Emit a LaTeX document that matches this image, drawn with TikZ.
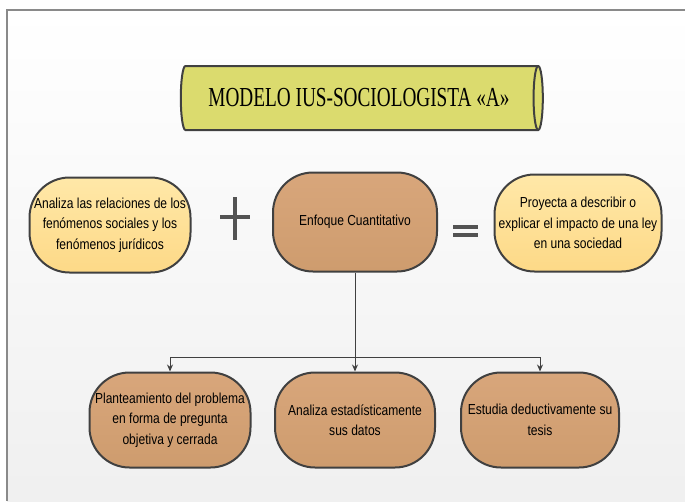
\documentclass[tikz,border=0pt]{standalone}
\usepackage{fontspec}
\setmainfont{Liberation Sans}[FakeStretch=0.83]
\newfontfamily\titlefont{Liberation Serif}[FakeStretch=0.7]
\usetikzlibrary{positioning,shapes.geometric,shapes.misc,arrows.meta}
\definecolor{edgegray}{HTML}{404040}
\definecolor{framegray}{HTML}{8A8A8A}
\definecolor{titlefill}{HTML}{DBDB6E}
\definecolor{paletop}{HTML}{FFE8A8}
\definecolor{palebot}{HTML}{FDD987}
\definecolor{tantop}{HTML}{D8A67B}
\definecolor{tanbot}{HTML}{CE9C6E}
\tikzset{
  stadium/.style={draw=edgegray, line width=2pt, rounded corners=40pt,
    align=center, inner sep=0pt, font=\fontsize{14.5}{20.5}\selectfont},
  idea/.style={stadium, top color=paletop, bottom color=palebot},
  method/.style={stadium, top color=tantop, bottom color=tanbot},
  link/.style={draw=edgegray, line width=1pt},
  sign/.style={draw=edgegray!90, line width=3.5pt}
}
\begin{document}
\begin{tikzpicture}[x=1pt, y=-1pt]
    \useasboundingbox (0, 0) rectangle (685, 501);
    \shade[top color=white, bottom color=black!6] (7, 10) rectangle (685, 501);
    \draw[framegray, line width=1.5pt] (685, 10) -- (7, 10) -- (7, 501);
    % title
    \node[cylinder, draw=edgegray, line width=2pt, fill=titlefill, aspect=0.5,
      minimum width=64pt, minimum height=362pt, inner sep=0pt]
      (titulo) at (359, 98) {\titlefont\fontsize{27.5}{30}\selectfont MODELO IUS-SOCIOLOGISTA «A»};
    % top row
    \node[idea, minimum width=161pt, minimum height=95pt] (analiza) at (110, 225)
      {Analiza las relaciones de los\\fenómenos sociales y los\\fenómenos jurídicos};
    \node[method, minimum width=164pt, minimum height=99pt] (enfoque) at (355, 222)
      {Enfoque Cuantitativo};
    \node[idea, minimum width=167pt, minimum height=97pt] (proyecta) at (578, 223)
      {Proyecta a describir o\\explicar el impacto de una ley\\en una sociedad};
    \draw[sign] (220, 217) -- (250, 217);
    \draw[sign] (235, 197) -- (235, 240);
    \draw[sign] (453, 227) -- (478, 227);
    \draw[sign] (453, 235) -- (478, 235);
    % bottom row
    \node[method, minimum width=161pt, minimum height=95pt] (plantea) at (170, 420)
      {Planteamiento del problema\\en forma de pregunta\\objetiva y cerrada};
    \node[method, minimum width=160pt, minimum height=95pt] (estadis) at (355, 420)
      {Analiza estadísticamente\\sus datos};
    \node[method, minimum width=158pt, minimum height=95pt] (deduce) at (540, 420)
      {Estudia deductivamente su\\tesis};
    \coordinate (rama) at (355, 357);
    \draw[link] (enfoque.south) -- (rama);
    \draw[link, -{Stealth[length=7pt, width=6pt]}] (rama) -| (plantea.north);
    \draw[link, -{Stealth[length=7pt, width=6pt]}] (rama) -- (estadis.north);
    \draw[link, -{Stealth[length=7pt, width=6pt]}] (rama) -| (deduce.north);
  \end{tikzpicture}
\end{document}
